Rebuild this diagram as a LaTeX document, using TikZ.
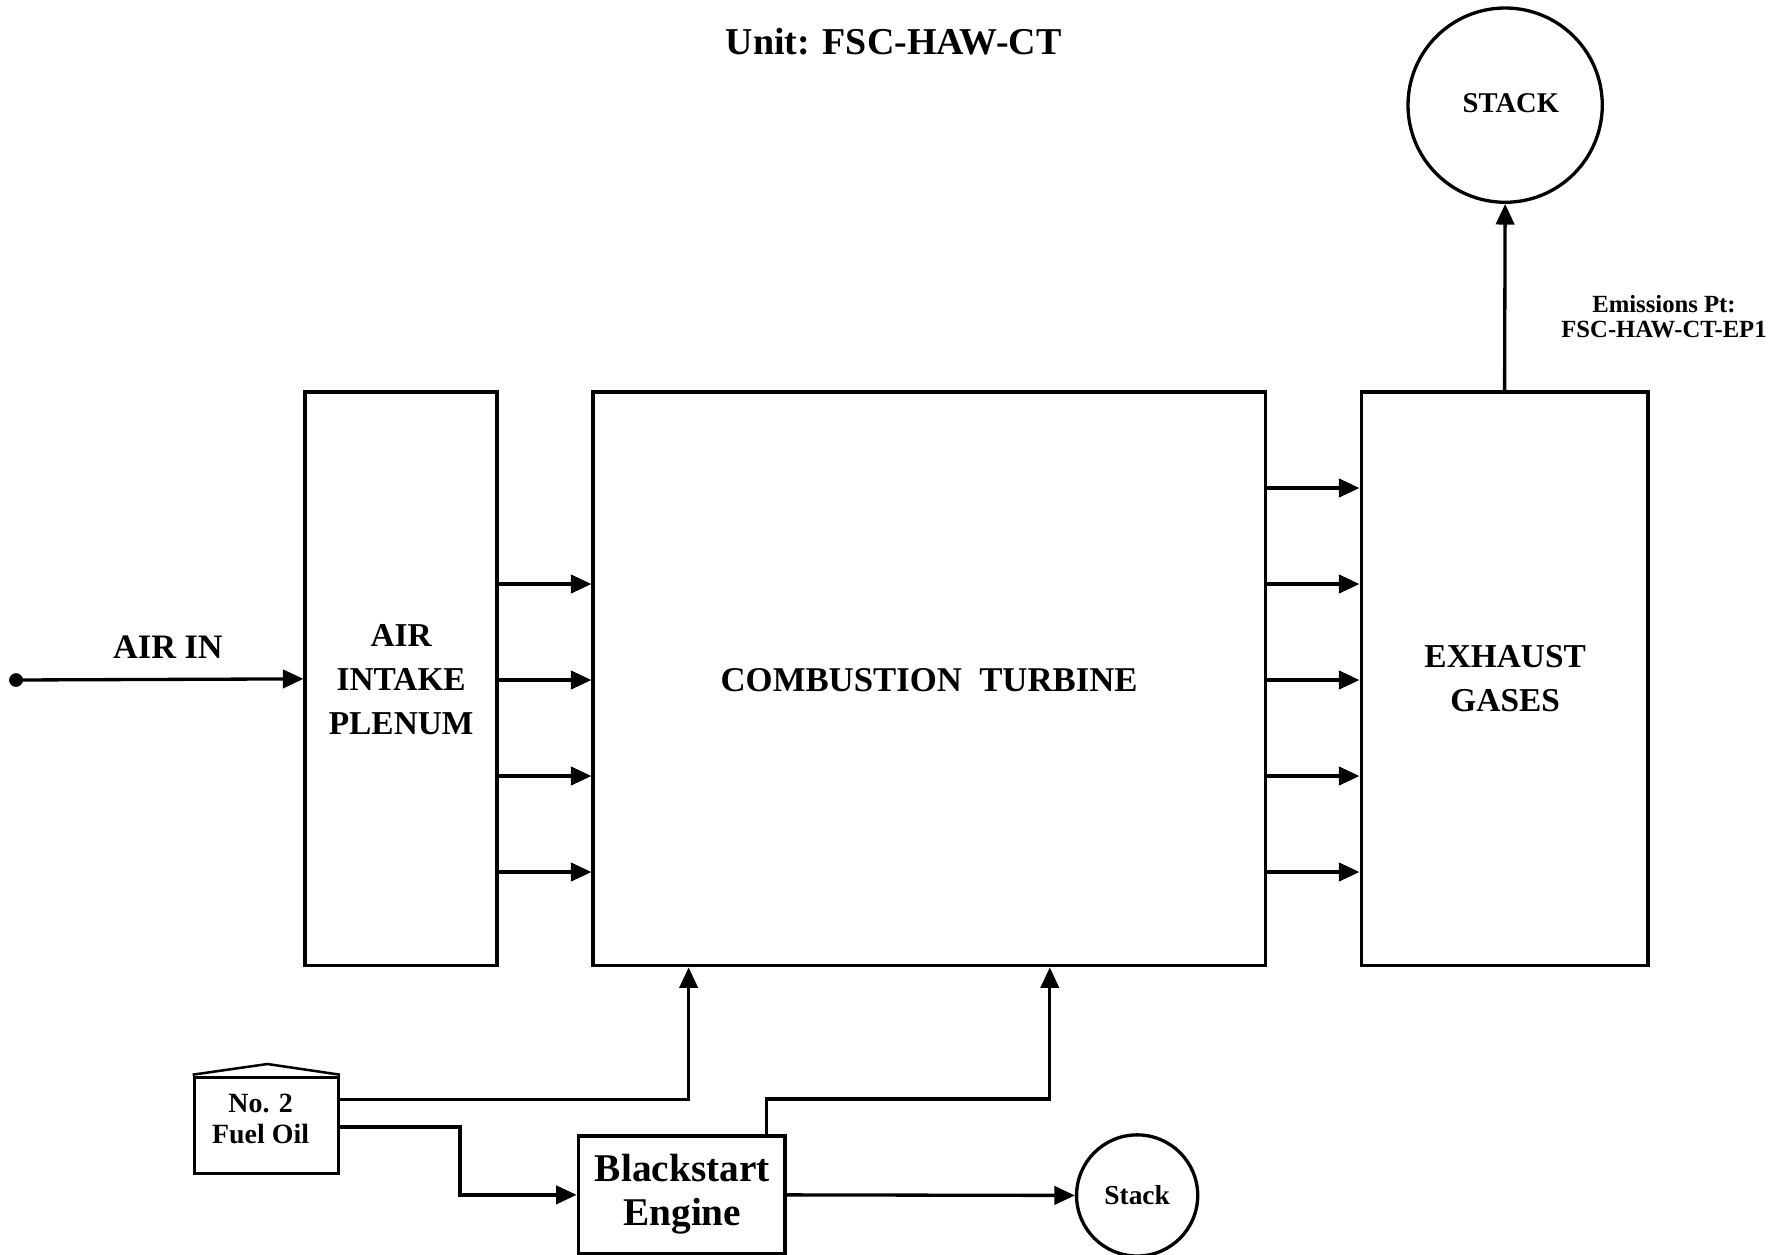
\documentclass[tikz,border=0pt]{standalone}
\usepackage{fontspec}
\setmainfont{Liberation Serif}
\usetikzlibrary{arrows.meta}
\begin{document}
\begin{tikzpicture}[x=0.5pt,y=-0.5pt,
  line width=1.45pt,
  arr/.style={-{Triangle[length=9pt,width=8pt]}},
  blk/.style={draw,rectangle,inner sep=0pt,align=center},
  circ/.style={draw,circle,inner sep=0pt,align=center},
  lbl/.style={inner sep=0pt,align=center,font=\bfseries\fontsize{14.6}{19.2}\selectfont}
]
\useasboundingbox (0,0) rectangle (1568,1098);

% title
\node[inner sep=0pt,font=\bfseries\fontsize{16.6}{20}\selectfont] (title) at (782,36) {Unit: FSC-HAW-CT};

% main blocks
\node[blk,minimum width=84pt,minimum height=251pt] (plenum) at (351,594) {};
\node[lbl] (plenumtxt) at (351,595) {AIR\\INTAKE\\PLENUM};
\node[blk,minimum width=294pt,minimum height=251pt] (ct) at (813,594) {};
\node[lbl,font=\bfseries\fontsize{15.2}{19.2}\selectfont] (cttxt) at (813,595) {COMBUSTION\ \ TURBINE};
\node[blk,minimum width=125.5pt,minimum height=251pt] (exh) at (1316.5,594) {};
\node[lbl] (exhtxt) at (1317,594) {EXHAUST\\GASES};

% stack
\node[circ,minimum size=85pt] (stack) at (1317,92) {};
\node[inner sep=0pt,font=\bfseries\fontsize{12.5}{14}\selectfont] (stacktxt) at (1322,90) {STACK};
\node[inner sep=0pt,align=center,font=\bfseries\fontsize{10.8}{10.8}\selectfont] (emis) at (1456,277) {Emissions Pt:\\FSC-HAW-CT-EP1};

% air in
\coordinate (airsrc) at (14,595);
\fill (airsrc) circle (3pt);
\draw[arr] (airsrc) -- (plenum.west);
\node[inner sep=0pt,font=\bfseries\fontsize{15}{16}\selectfont] (airin) at (147,566) {AIR IN};

% plenum -> turbine
\foreach \yy in {511,595,679,763}{
  \draw[arr] (plenum.east |- 0,\yy) -- (ct.west |- 0,\yy);
}
% turbine -> exhaust
\foreach \yy in {427,511,595,679,763}{
  \draw[arr] (ct.east |- 0,\yy) -- (exh.west |- 0,\yy);
}
% exhaust -> stack
\draw[arr] (exh.north) -- (stack.south);

% fuel tank
\node[draw,rectangle,inner sep=0pt,minimum width=63pt,minimum height=42pt] (tank) at (233,985) {};
\draw[line width=1.1pt] ([yshift=0.6pt]tank.north west) -- (234,931) -- ([yshift=0.6pt]tank.north east);
\node[inner sep=0pt,align=center,font=\bfseries\fontsize{12.2}{13.2}\selectfont] (tanktxt) at (228,979) {No. 2\\Fuel Oil};

% blackstart engine
\node[blk,minimum width=90.5pt,minimum height=51.5pt] (bs) at (596.5,1045.5) {};
\node[inner sep=0pt,align=center,font=\bfseries\fontsize{17.2}{19}\selectfont] (bstxt) at (597,1045) {Blackstart\\Engine};

% small stack
\node[circ,minimum size=53pt] (sstack) at (995,1046) {};
\node[inner sep=0pt,font=\bfseries\fontsize{12}{12}\selectfont] (sstacktxt) at (995,1046) {Stack};

% fuel lines
\draw[arr] ([yshift=11.5pt]tank.east) -| ([xshift=42.5pt]ct.south west);
\draw[arr] ([yshift=-0.5pt]tank.east) -- ++(52.5pt,0) |- (bs.west);
\draw[arr] ([xshift=-9pt]bs.north east) -- ++(0,15.5pt) -| ([xshift=200.5pt]ct.south west);
\draw[arr] (bs.east) -- (sstack.west);
\end{tikzpicture}
\end{document}
